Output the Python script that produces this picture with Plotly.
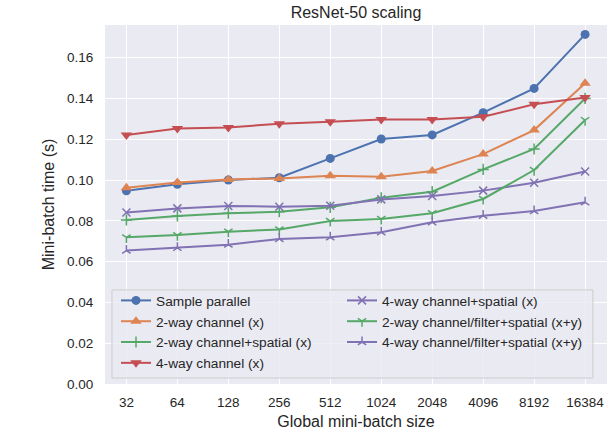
import plotly.graph_objects as go

# Global mini-batch sizes (categorical x axis)
batch_sizes = ["32", "64", "128", "256", "512", "1024", "2048", "4096", "8192", "16384"]

# Mini-batch time (s) for each parallelization strategy
sample_parallel = [0.0947, 0.0979, 0.1000, 0.1011, 0.1106, 0.1201, 0.1221, 0.1330, 0.1449, 0.1714]
channel_2way = [0.0962, 0.0988, 0.1003, 0.1008, 0.1021, 0.1016, 0.1044, 0.1127, 0.1245, 0.1474]
channel_spatial_2way = [0.0804, 0.0824, 0.0837, 0.0845, 0.0866, 0.0913, 0.0943, 0.1052, 0.1152, 0.1400]
channel_4way = [0.1221, 0.1253, 0.1258, 0.1276, 0.1286, 0.1297, 0.1297, 0.1310, 0.1371, 0.1405]
channel_spatial_4way = [0.0841, 0.0861, 0.0873, 0.0869, 0.0874, 0.0905, 0.0922, 0.0948, 0.0987, 0.1042]
chfilter_spatial_2way = [0.0719, 0.0730, 0.0747, 0.0758, 0.0799, 0.0809, 0.0837, 0.0907, 0.1049, 0.1294]
chfilter_spatial_4way = [0.0654, 0.0667, 0.0683, 0.0711, 0.0719, 0.0744, 0.0793, 0.0825, 0.0848, 0.0891]

BLUE, ORANGE, GREEN, RED, PURPLE = "#4C72B0", "#DD8452", "#55A868", "#C44E52", "#8172B3"
FONT = "Liberation Sans, Arial, sans-serif"
TEXT = "#262626"

# (name, values, colour, symbol, size, legend column)
series = [
    ("Sample parallel", sample_parallel, BLUE, "circle", 9, "legend"),
    ("2-way channel (x)", channel_2way, ORANGE, "triangle-up", 10, "legend"),
    ("2-way channel+spatial (x)", channel_spatial_2way, GREEN, "cross-thin-open", 8, "legend"),
    ("4-way channel (x)", channel_4way, RED, "triangle-down", 10, "legend"),
    ("4-way channel+spatial (x)", channel_spatial_4way, PURPLE, "x-thin-open", 8, "legend2"),
    ("2-way channel/filter+spatial (x+y)", chfilter_spatial_2way, GREEN, "y-down-open", 7, "legend2"),
    ("4-way channel/filter+spatial (x+y)", chfilter_spatial_4way, PURPLE, "y-up-open", 7, "legend2"),
]

fig = go.Figure()
for name, vals, color, symbol, size, leg in series:
    open_sym = symbol.endswith("open")
    fig.add_trace(go.Scatter(
        x=batch_sizes, y=vals, name=name, mode="lines+markers",
        line=dict(color=color, width=2),
        marker=dict(symbol=symbol, size=size, color=color,
                    line=dict(color=color, width=1.5 if open_sym else 0)),
        legend=leg,
    ))

# Shared frame behind the two legend columns
fig.add_shape(type="rect", xref="paper", yref="paper",
              x0=0.0139, x1=0.972, y0=0.0167, y1=0.262,
              fillcolor="rgba(234,234,242,0.8)", line=dict(color="#CCCCCC", width=1),
              layer="above")

legend_common = dict(
    orientation="v", xanchor="left", yanchor="top", y=(384 - 285) / 359,
    bgcolor="rgba(0,0,0,0)", borderwidth=0,
    font=dict(size=13.7, color=TEXT), traceorder="normal",
)

fig.update_layout(
    width=613, height=433,
    margin=dict(l=105, r=6, t=25, b=49),
    paper_bgcolor="white",
    plot_bgcolor="#EAEAF2",
    font=dict(family=FONT, size=13.5, color=TEXT),
    title=dict(text="ResNet-50 scaling", x=0.5, xref="paper", xanchor="center",
               y=1 - 12 / 433, yref="container", yanchor="middle",
               font=dict(size=16, color=TEXT)),
    showlegend=True,
    legend=dict(x=(116 - 105) / 502, **legend_common),
    legend2=dict(x=(342 - 105) / 502, **legend_common),
)

fig.update_xaxes(
    type="category", range=[-0.42, 9.43],
    showgrid=True, gridcolor="white", gridwidth=1.3,
    showline=False, zeroline=False,
    ticks="outside", ticklen=6, tickcolor="rgba(0,0,0,0)",
    tickfont=dict(size=13.5, color=TEXT),
    title=dict(text="Global mini-batch size", font=dict(size=16, color=TEXT), standoff=6),
)
fig.update_yaxes(
    range=[0, 0.176], tickvals=[0, 0.02, 0.04, 0.06, 0.08, 0.10, 0.12, 0.14, 0.16],
    tickformat=".2f",
    showgrid=True, gridcolor="white", gridwidth=1.3,
    showline=False, zeroline=False,
    ticks="outside", ticklen=8, tickcolor="rgba(0,0,0,0)",
    tickfont=dict(size=13.5, color=TEXT),
    title=dict(text="Mini-batch time (s)", font=dict(size=16, color=TEXT), standoff=8),
)

fig.write_html("out.html")
